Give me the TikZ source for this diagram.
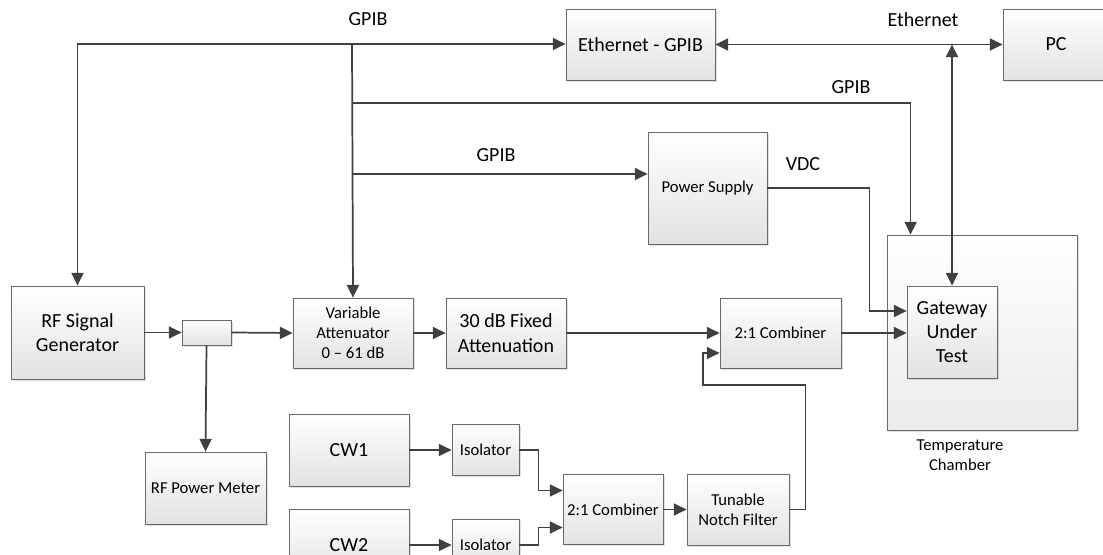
\documentclass[tikz,border=0pt]{standalone}
\usepackage{fontspec}
\setmainfont{Carlito}
\usetikzlibrary{calc,arrows.meta,shadows}
\definecolor{LineGray}{RGB}{64,64,64}
\definecolor{BoxLine}{RGB}{105,105,105}
\definecolor{BoxFill}{RGB}{226,226,226}
\tikzset{%
	% Size of a block in pixels
	Size/.style 2 args={minimum width=#1*0.75pt,minimum height=#2*0.75pt},
	% Style of the block
	Block/.style={draw=BoxLine,line width=0.6pt,top color=white,bottom color=BoxFill,
		drop shadow={shadow xshift=1.2pt,shadow yshift=-1.2pt,opacity=0.25},
		inner sep=1pt,align=center,font=\fontsize{15}{18.3}\selectfont},
	% Style of the block with small text
	SmallBlock/.style={Block,font=\fontsize{12.5}{15.2}\selectfont},
	% Style of the bus label
	BusName/.style={font=\fontsize{15}{18.3}\selectfont,black,inner sep=0},
	% Style of the caption under a block
	Caption/.style={font=\fontsize{12.5}{15.2}\selectfont,black,inner sep=0,align=center},
	% Style of the connection
	Connection/.style={draw=LineGray,line width=1.3pt,>={Triangle[length=9.5pt,width=9pt]}},
}

\begin{document}
\begin{tikzpicture}[x=0.75pt,y=-0.75pt]
\useasboundingbox (0,0) rectangle (1103,555);

%~~~~~~~~~~~~~~~~~~~~~~~~~~~~~~~~~~~~~~~~~~~~~~~~~~
% Set Blocks
%~~~~~~~~~~~~~~~~~~~~~~~~~~~~~~~~~~~~~~~~~~~~~~~~~~
\node[Block,Size={190}{195},bottom color=BoxFill!70] (Chamber) at (982, 332.5) {};
\node[Caption] (ChamberName) at (960, 455) {Temperature\\Chamber};

\node[Block,Size={133}{93}] (RFgen) at (77.5, 332.5) {RF Signal\\Generator};
\node[SmallBlock,Size={49}{25}] (Split) at (206.5, 332.5) {};
\node[SmallBlock,Size={121}{72}] (RFPM) at (205.5, 488) {RF Power Meter};
\node[SmallBlock,Size={120}{70}] (VarAtt) at (353, 333) {Variable\\Attenuator\\0 -- 61 dB};
\node[Block,Size={120}{70}] (FixAtt) at (506, 333) {30 dB Fixed\\Attenuation};
\node[SmallBlock,Size={121}{70}] (CombTop) at (780.5, 333) {2:1 Combiner};
\node[Block,Size={90}{92}] (Gateway) at (952, 332) {Gateway\\Under\\Test};

\node[SmallBlock,Size={119}{112}] (PS) at (707.5, 188) {Power Supply};
\node[Block,Size={149}{71}] (EthGPIB) at (640.5, 44.5) {Ethernet - GPIB};
\node[Block,Size={106}{71}] (PC) at (1056, 44.5) {PC};

\node[Block,Size={120}{72}] (CW1) at (349, 450) {CW1};
\node[SmallBlock,Size={67}{51}] (Iso1) at (485.5, 450) {Isolator};
\node[Block,Size={120}{72}] (CW2) at (349, 545) {CW2};
\node[SmallBlock,Size={67}{52}] (Iso2) at (485.5, 545) {Isolator};
\node[SmallBlock,Size={100}{70}] (CombBot) at (613, 509.5) {2:1 Combiner};
\node[SmallBlock,Size={102}{71}] (Notch) at (738, 509.5) {Tunable\\Notch Filter};

%~~~~~~~~~~~~~~~~~~~~~~~~~~~~~~~~~~~~~~~~~~~~~~~~~~
% Set Bus
%~~~~~~~~~~~~~~~~~~~~~~~~~~~~~~~~~~~~~~~~~~~~~~~~~~
\coordinate (Bus1) at (352, 44);
\coordinate (Bus2) at (352, 103);
\coordinate (Bus3) at (352, 174);
\coordinate (Loop) at (703, 385);

\node[BusName] at (368, 19) {GPIB};
\node[BusName] at (496, 155) {GPIB};
\node[BusName] at (851, 87) {GPIB};
\node[BusName] at (923, 20) {Ethernet};
\node[BusName] at (803, 164) {VDC};

%~~~~~~~~~~~~~~~~~~~~~~~~~~~~~~~~~~~~~~~~~~~~~~~~~~
% Set Connections
%~~~~~~~~~~~~~~~~~~~~~~~~~~~~~~~~~~~~~~~~~~~~~~~~~~
%GPIB bus
\draw[Connection,->] (Bus1) -| (RFgen.north);
\draw[Connection,->] (Bus1) -- (EthGPIB.west |- Bus1);
\draw[Connection,->] (Bus1) -- (VarAtt.north);
\draw[Connection,->] (Bus2) -| ($(Chamber.north west)+(24,0)$);
\draw[Connection,->] (Bus3) -- (PS.west |- Bus3);

%Ethernet
\draw[Connection,<->] (EthGPIB.east) -- (PC.west);
\draw[Connection,<->] (Gateway.north |- EthGPIB.east) -- (Gateway.north);

%Power
\draw[Connection,->] (PS.east) -- ++(102,0) |- ($(Gateway.west)+(0,-21)$);

%RF chain
\draw[Connection,->] (RFgen.east) -- (Split.west);
\draw[Connection,->] (Split.east) -- (VarAtt.west);
\draw[Connection,->] (Split.south) -- (RFPM.north);
\draw[Connection,->] (VarAtt.east) -- (FixAtt.west);
\draw[Connection,->] (FixAtt.east) -- (CombTop.west);
\draw[Connection,->] (CombTop.east) -- (CombTop.east -| Gateway.west);

%CW chain
\draw[Connection,->] (CW1.east) -- (Iso1.west);
\draw[Connection,->] (CW2.east) -- (Iso2.west);
\draw[Connection,->] (Iso1.east) -- ++(19,0) |- ($(CombBot.west)+(0,-19)$);
\draw[Connection,->] (Iso2.east) -- ++(19,0) |- ($(CombBot.west)+(0,18)$);
\draw[Connection,->] (CombBot.east) -- (Notch.west);
\draw[Connection,->] (Notch.east) -- ++(16,0) |- (Loop) |- ($(CombTop.west)+(0,20)$);

\end{tikzpicture}
\end{document}
